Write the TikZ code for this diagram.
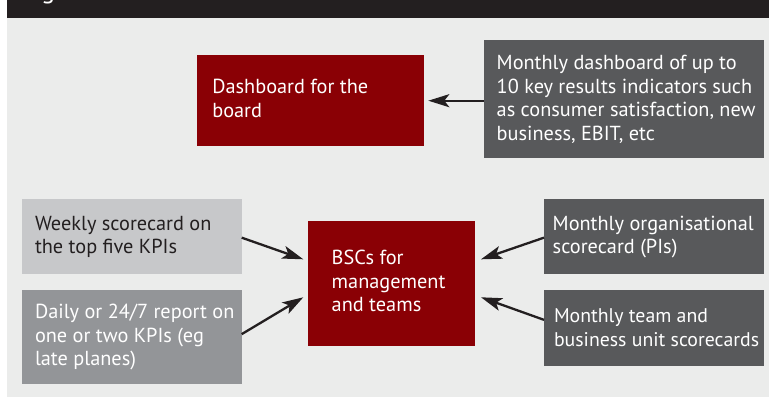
\documentclass[tikz,border=0pt]{standalone}
\usepackage{fontspec}
\setmainfont{PT Sans}
\usetikzlibrary{arrows.meta}

\definecolor{panelbg}{HTML}{EBECEB}
\definecolor{titlebar}{HTML}{231F20}
\definecolor{boardred}{HTML}{8A0005}
\definecolor{darkbox}{HTML}{58595B}
\definecolor{lightbox}{HTML}{C7C8CA}
\definecolor{midbox}{HTML}{939598}
\definecolor{arrowink}{HTML}{231F20}

\begin{document}
\begin{tikzpicture}[x=1pt,y=-1pt,
  box/.style={draw=none, inner sep=0pt, outer sep=0pt, anchor=north west},
  boxtext/.style={anchor=base west, inner sep=0pt, outer sep=0pt,
    font=\fontsize{20.3pt}{23.8pt}\selectfont},
  arr/.style={draw=arrowink, line width=2.3pt,
    -{Stealth[length=21pt,width=13pt,inset=5pt]}}
]
% page and panel
\useasboundingbox (0,0) rectangle (769,397);
\fill[white] (0,0) rectangle (769,397);
\fill[panelbg] (7,0) rectangle (769,396.7);
\fill[titlebar] (7,0) rectangle (769,17.5);
\node[anchor=base west, inner sep=0pt, text=white,
  font=\fontsize{26pt}{30pt}\selectfont] (title) at (41,-1.5) {g};

% boxes
\node[box, fill=boardred, minimum width=226.7pt, minimum height=90.7pt] (board) at (197.3,55) {};
\node[box, fill=darkbox, minimum width=280pt, minimum height=117.7pt] (mdash) at (484,40) {};
\node[box, fill=lightbox, minimum width=219.7pt, minimum height=75.3pt] (weekly) at (22,199) {};
\node[box, fill=midbox, minimum width=219.7pt, minimum height=94.3pt] (daily) at (22,290) {};
\node[box, fill=boardred, minimum width=167pt, minimum height=124.7pt] (bsc) at (308,221) {};
\node[box, fill=darkbox, minimum width=220pt, minimum height=75.3pt] (org) at (544,199) {};
\node[box, fill=darkbox, minimum width=220pt, minimum height=75.7pt] (team) at (544,290) {};

% box texts
\node[boxtext, text=white] (boardtxt) at (212.3,93.3)
  {\parbox[t]{200pt}{Dashboard for the\\board}};
\node[boxtext, text=white] (mdashtxt) at (496.7,69.3)
  {\parbox[t]{270pt}{Monthly dashboard of up to\\10 key results indicators such\\as consumer satisfaction, new\\business, EBIT, etc}};
\node[boxtext, text=titlebar] (weeklytxt) at (35,230)
  {\parbox[t]{210pt}{Weekly scorecard on\\the top five KPIs}};
\node[boxtext, text=white] (dailytxt) at (35,318.3)
  {\parbox[t]{210pt}{Daily or 24/7 report on\\one or two KPIs (eg\\late planes)}};
\node[boxtext, text=white] (bsctxt) at (331.7,264.3)
  {\parbox[t]{160pt}{BSCs for\\management\\and teams}};
\node[boxtext, text=white] (orgtxt) at (552.7,230)
  {\parbox[t]{220pt}{Monthly organisational\\scorecard (PIs)}};
\node[boxtext, text=white, font=\fontsize{19.8pt}{23.5pt}\selectfont] (teamtxt) at (554,322.7)
  {\parbox[t]{220pt}{Monthly team and\\business unit scorecards}};

% arrow tips
\coordinate (tipA) at (428.3,100.7);
\coordinate (tipB) at (303.3,259.3);
\coordinate (tipC) at (303.3,297.3);
\coordinate (tipD) at (481,259.3);
\coordinate (tipE) at (481,297.3);

% connectors
\draw[arr] (mdash.west |- tipA) -- (tipA);
\draw[arr] ([yshift=-1pt]weekly.east) -- (tipB);
\draw[arr] ([yshift=3pt]daily.east) -- (tipC);
\draw[arr] ([yshift=-1pt]org.west) -- (tipD);
\draw[arr] ([yshift=8pt]team.west) -- (tipE);
\end{tikzpicture}
\end{document}
